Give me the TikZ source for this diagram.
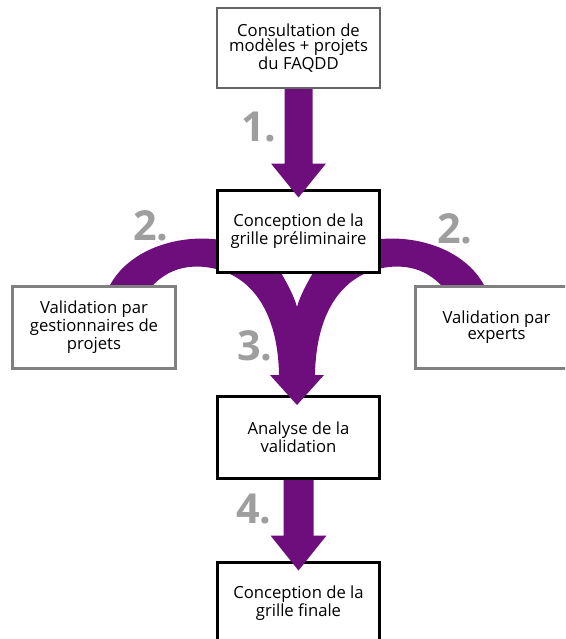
\documentclass[tikz,border=0pt]{standalone}
\usepackage{fontspec}
\setmainfont{Open Sans}
\usetikzlibrary{calc}

\definecolor{arrowpurple}{RGB}{110,14,124}
\definecolor{numgray}{RGB}{158,158,158}
\definecolor{boxgray}{RGB}{128,128,128}
\definecolor{topgray}{RGB}{100,100,100}

\tikzset{
  stepbox/.style={draw=black, line width=2.25pt, fill=white, minimum width=122pt, minimum height=61.5pt, inner sep=0pt, align=center, font=\fontsize{12.5}{11.7}\selectfont},
  sidebox/.style={stepbox, draw=boxgray},
  stepnum/.style={text=numgray, inner sep=0pt, font=\fontsize{31}{31}\selectfont\bfseries},
}

\begin{document}
\begin{tikzpicture}[x=0.75pt,y=0.75pt,yscale=-1,xscale=1]
\clip (0,0) rectangle (565,639);
\fill[white] (0,0) rectangle (565,639);

% Analyse box (under the head of arrow 3)
\node[stepbox] (analyse) at (298.5,437.5) {Analyse de la\\validation};

% Arrows 2. and 3. : the two bands meeting in one head
\fill[arrowpurple] (110,285) .. controls (140,230) and (240,222) .. (280,271) .. controls (288,285) and (294,296) .. (297,307) .. controls (300,296) and (306,285) .. (314,271) .. controls (354,222) and (454,230) .. (484,285) -- (441,285) .. controls (426,270) and (409,265) .. (389,267) .. controls (344,272) and (316,310) .. (315,375) -- (324,375) -- (297,405) -- (270,375) -- (279,375) .. controls (278,310) and (250,272) .. (205,267) .. controls (185,265) and (168,270) .. (153,285) -- cycle;

% Side boxes
\node[sidebox] (gestion) at (94,327) {Validation par\\gestionnaires de\\projets};
\node[sidebox] (experts) at (496.5,327) {Validation par\\experts};

% Middle boxes
\node[stepbox] (prelim) at (298.5,231) {Conception de la\\grille préliminaire};
\node[stepbox, draw=topgray, line width=1.5pt, minimum height=60pt] (consult) at (298.5,48) {Consultation de\\modèles + projets\\du FAQDD};
\node[stepbox] (finale) at (298.5,603) {Conception de la\\grille finale};

% Arrow 1.
\coordinate (tipone) at ($(prelim.north)+(0,9)$);
\fill[arrowpurple] ($(consult.south)+(-14,0)$) -- ($(tipone)+(-14,-34)$) -- ($(tipone)+(-27.5,-34)$) -- (tipone) -- ($(tipone)+(27.5,-34)$) -- ($(tipone)+(14,-34)$) -- ($(consult.south)+(14,0)$) -- cycle;

% Arrow 4.
\coordinate (tipfour) at ($(finale.north)+(0,10)$);
\fill[arrowpurple] ($(analyse.south)+(-15,0)$) -- ($(tipfour)+(-15,-35)$) -- ($(tipfour)+(-28,-35)$) -- (tipfour) -- ($(tipfour)+(28,-35)$) -- ($(tipfour)+(15,-35)$) -- ($(analyse.south)+(15,0)$) -- cycle;

% Step numbers
\node[stepnum] (numone) at (259,127) {1.};
\node[stepnum] (numtwoleft) at (151,226) {2.};
\node[stepnum] (numtworight) at (455,229) {2.};
\node[stepnum] (numthree) at (255,346) {3.};
\node[stepnum] (numfour) at (254,509) {4.};

\end{tikzpicture}
\end{document}
